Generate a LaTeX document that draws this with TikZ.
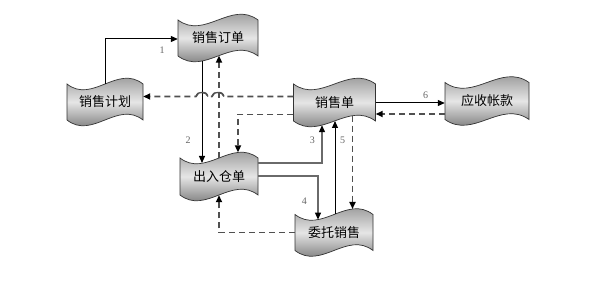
\documentclass[tikz,border=0pt]{standalone}
\usepackage{fontspec}
\setmainfont{Liberation Serif}
\newfontfamily\cjkfont{Noto Sans CJK SC}
\usetikzlibrary{arrows.meta,calc}
\definecolor{dashgray}{HTML}{505050}
\definecolor{numgray}{HTML}{666666}
\definecolor{linegray}{HTML}{6A6A6A}
\tikzset{
  tapefill/.style={draw=black!80, line width=0.7pt, top color=black!52, bottom color=black!68, middle color=white!90!black},
  tapebox/.style={inner sep=0pt, font=\cjkfont\fontsize{13}{13}\selectfont},
  tip/.style={-{Triangle[length=7pt,width=6pt,color=black]}},
  solidline/.style={line width=1pt, draw=black, tip},
  greyline/.style={line width=1.1pt, draw=linegray, tip},
  dashline/.style={line width=1.6pt, draw=dashgray, dash pattern=on 6pt off 4pt, tip},
  hopline/.style={line width=1.3pt, draw=dashgray},
  numlabel/.style={font=\fontsize{10}{10}\selectfont, text=numgray, inner sep=0pt},
}
\newcommand\tapenode[6]{%
  \pgfmathsetmacro\tpL{#2-#4/2}\pgfmathsetmacro\tpR{#2+#4/2}%
  \pgfmathsetmacro\tpT{#3-#5/2}\pgfmathsetmacro\tpB{#3+#5/2}%
  \pgfmathsetmacro\tpA{#2-#4/6}\pgfmathsetmacro\tpC{#2+#4/6}%
  \path[tapefill] (\tpL,\tpT) .. controls (\tpA,{\tpT+20}) and (\tpC,{\tpT-20}) .. (\tpR,\tpT)
     -- (\tpR,\tpB) .. controls (\tpC,{\tpB-20}) and (\tpA,{\tpB+20}) .. (\tpL,\tpB) -- cycle;
  \node[tapebox, minimum width=#4pt, minimum height=#5pt] (#1) at (#2,#3) {#6};
}
\begin{document}
\begin{tikzpicture}[x=1pt,y=-1pt]
\useasboundingbox[fill=white] (0,0) rectangle (616,283);

\tapenode{order}{218}{38}{80}{36}{销售订单}
\tapenode{plan}{105}{102}{76}{36}{销售计划}
\tapenode{sales}{334.5}{102.5}{82}{37}{销售单}
\tapenode{ar}{487}{101}{84}{37}{应收帐款}
\tapenode{stock}{219}{176.5}{78}{37}{出入仓单}
\tapenode{consign}{334}{232.5}{78}{36}{委托销售}

% solid connectors
\draw[solidline] (plan.north) |- ($(order.west)+(0,1)$);
\draw[solidline] ($(order.center)+(-16,23)$) -- ($(stock.center)+(-17,-13.5)$);
\draw[greyline] ($(stock.east)+(0,-13.5)$) -| ($(sales.center)+(-12.5,22.7)$);
\draw[greyline] ($(stock.east)+(0,-0.5)$) -| ($(consign.center)+(-16,-12.9)$);
\draw[solidline] ($(consign.center)+(1,-18.3)$) -- ($(sales.center)+(0.5,18.5)$);
\draw[solidline] ($(sales.east)+(0,0.5)$) -- ($(ar.west)+(0,2)$);

% dashed connectors
\draw[dashline] (stock.north) -- ($(order.center)+(1,17.6)$);
\draw[dashline] ($(sales.west)+(0,12)$) -| ($(stock.center)+(19,-24.1)$);
\draw[dashline] ($(sales.west)+(0,-6)$) -- ($(stock.north |- sales.west)+(5,-6)$)
   arc[start angle=0,end angle=180,x radius=6pt,y radius=4pt]
   -- ($(stock.north |- sales.west)+(-11,-6)$)
   arc[start angle=0,end angle=180,x radius=6pt,y radius=4pt]
   -- ($(plan.east)+(0,-5.5)$);
\draw[hopline] ($(stock.north |- sales.west)+(5,-6)$)
   arc[start angle=0,end angle=180,x radius=6pt,y radius=4pt];
\draw[hopline] ($(stock.north |- sales.west)+(-11,-6)$)
   arc[start angle=0,end angle=180,x radius=6pt,y radius=4pt];
\draw[dashline] ($(sales.center)+(18,13.2)$) -- ($(consign.center)+(18.5,-23.5)$);
\draw[dashline] (consign.west) -| (stock.south);
\draw[dashline] ($(ar.west)+(0,13)$) -- ($(sales.east)+(0,11.5)$);

% labels
\node[numlabel] (n1) at (162,50.5) {1};
\node[numlabel] (n2) at (188,140) {2};
\node[numlabel] (n3) at (312.3,140) {3};
\node[numlabel] (n4) at (304.3,201.5) {4};
\node[numlabel] (n5) at (342.7,140) {5};
\node[numlabel] (n6) at (425.7,95) {6};
\end{tikzpicture}
\end{document}
